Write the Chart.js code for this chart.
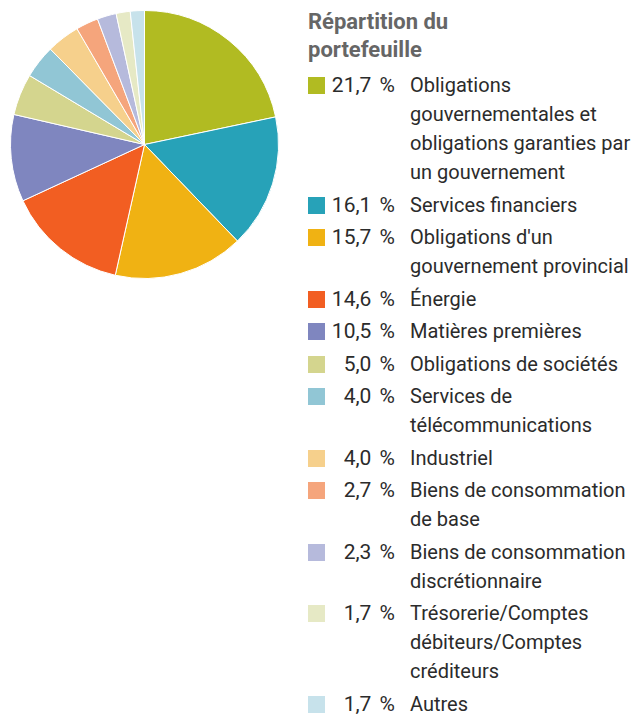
<!DOCTYPE html>
<html>
<head>
<meta charset="utf-8">
<script src="https://cdn.jsdelivr.net/npm/chart.js@4"></script>
<style>
  html, body { margin:0; padding:0; background:#fff; }
  body { width:639px; height:715px; position:relative; overflow:hidden; font-family:Roboto, 'Open Sans', sans-serif; }
  #pie-wrap { position:absolute; left:0; top:0; width:289px; height:289px; }
  #legend { position:absolute; left:308px; top:8px; width:331px; color:#2b2b2b; font-size:20px; }
  .lg-title { font-weight:700; color:#666; font-size:22px; line-height:28px; margin-bottom:7px; }
  .lg-item { display:flex; align-items:flex-start; margin-bottom:3.5px; line-height:29px; white-space:nowrap; }
  .lg-box { width:17px; height:17px; margin-top:6px; flex:none; }
  .lg-val { width:70px; text-align:right; flex:none; font-size:21px; word-spacing:3px; }
  .lg-lab { margin-left:15px; }
</style>
</head>
<body>
<div id="pie-wrap"><canvas id="pieChart"></canvas></div>
<div id="legend"></div>
<script>
/* ── Portfolio split ── */
const TITLE = ['Répartition du', 'portefeuille'];
const VALUES = [21.7, 16.1, 15.7, 14.6, 10.5, 5.0, 4.0, 4.0, 2.7, 2.3, 1.7, 1.7];
const LABELS = [
  ['Obligations', 'gouvernementales et', 'obligations garanties par', 'un gouvernement'],
  ['Services financiers'],
  ["Obligations d'un", 'gouvernement provincial'],
  ['Énergie'],
  ['Matières premières'],
  ['Obligations de sociétés'],
  ['Services de', 'télécommunications'],
  ['Industriel'],
  ['Biens de consommation', 'de base'],
  ['Biens de consommation', 'discrétionnaire'],
  ['Trésorerie/Comptes', 'débiteurs/Comptes', 'créditeurs'],
  ['Autres'],
];
const COLORS = ['#B1BB22','#27A2B8','#F0B213','#F25E22','#7F86BF','#D4D58E',
                '#91C6D5','#F6D08C','#F5A57C','#B6BADC','#E6E9C5','#C7E2EB'];

function fmt(v) { return v.toFixed(1).replace('.', ',') + ' %'; }

function renderLegend() {
  const wrap = document.getElementById('legend');
  wrap.innerHTML = `<div class="lg-title">${TITLE.join('<br>')}</div>` +
    VALUES.map((v, i) => `<div class="lg-item">
      <span class="lg-box" style="background:${COLORS[i]}"></span>
      <span class="lg-val">${fmt(v)}</span>
      <span class="lg-lab">${LABELS[i].join('<br>')}</span>
    </div>`).join('');
}

function buildPie() {
  new Chart(document.getElementById('pieChart'), {
    type:'pie',
    data:{
      labels:LABELS.map(l => l.join(' ')),
      datasets:[{ data:VALUES, backgroundColor:COLORS, borderColor:'#fff', borderWidth:1 }]
    },
    options:{
      responsive:true, maintainAspectRatio:false, animation:false,
      layout:{ padding:10 },
      plugins:{ legend:{ display:false }, tooltip:{ enabled:false } }
    }
  });
}

renderLegend();
buildPie();
</script>
</body>
</html>
